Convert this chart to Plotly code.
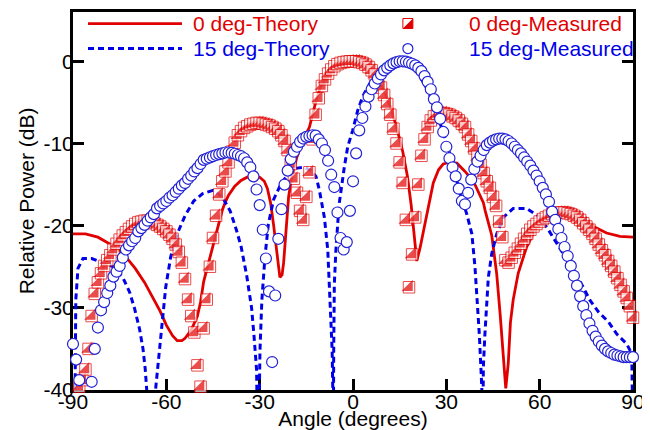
import plotly.graph_objects as go

# ---------------- data ----------------
angles = [-90, -89, -88, -87, -86, -85, -84, -83, -82, -81,
          -80, -79, -78, -77, -76, -75, -74, -73, -72, -71,
          -70, -69, -68, -67, -66, -65, -64, -63, -62, -61,
          -60, -59, -58, -57, -56, -55, -54, -53, -52, -51,
          -50, -49, -48, -47, -46, -45, -44, -43, -42, -41,
          -40, -39, -38, -37, -36, -35, -34, -33, -32, -31,
          -30, -29, -28, -27, -26, -25, -24, -23, -22, -21,
          -20, -19, -18, -17, -16, -15, -14, -13, -12, -11,
          -10, -9, -8, -7, -6, -5, -4, -3, -2, -1,
          0, 1, 2, 3, 4, 5, 6, 7, 8, 9,
          10, 11, 12, 13, 14, 15, 16, 17, 18, 19,
          20, 21, 22, 23, 24, 25, 26, 27, 28, 29,
          30, 31, 32, 33, 34, 35, 36, 37, 38, 39,
          40, 41, 42, 43, 44, 45, 46, 47, 48, 49,
          50, 51, 52, 53, 54, 55, 56, 57, 58, 59,
          60, 61, 62, 63, 64, 65, 66, 67, 68, 69,
          70, 71, 72, 73, 74, 75, 76, 77, 78, 79,
          80, 81, 82, 83, 84, 85, 86, 87, 88, 89,
          90]

meas0_db = [None, None, -39.6, -38.8, -37.5, -35.0, -31.0, -28.3, -26.9, -25.8,
            -24.9, -24.2, -23.6, -22.9, -22.2, -21.7, -21.2, -20.8, -20.4, -20.1,
            -19.8, -19.6, -19.5, -19.4, -19.4, -19.5, -19.7, -19.9, -20.1, -20.4,
            -20.7, -21.1, -21.6, -22.3, -23.2, -24.5, -26.5, -29.0, -31.0, -33.0,
            -37.0, -39.6, -32.5, -29.0, -25.0, -21.5, -18.8, -16.2, -14.6, -13.4,
            -12.3, -11.0, -9.9, -9.0, -8.5, -8.1, -7.9, -7.7, -7.6, -7.5,
            -7.5, -7.6, -7.7, -7.8, -8.0, -8.2, -8.5, -9.0, -9.7, -10.8,
            -12.5, -14.3, -16.0, -18.2, -19.3, -16.5, -13.5, -9.5, -6.5, -4.5,
            -3.0, -2.2, -1.5, -1.0, -0.6, -0.35, -0.2, -0.1, -0.05, 0.0,
            0.0, 0.0, -0.1, -0.2, -0.4, -0.7, -1.1, -1.6, -2.3, -3.2,
            -4.1, -5.2, -6.5, -8.2, -10.0, -12.3, -14.8, -19.3, -27.5, -23.5,
            -19.0, -15.0, -11.5, -9.5, -8.0, -7.2, -6.7, -6.4, -6.3, -6.3,
            -6.4, -6.5, -6.7, -6.9, -7.2, -7.6, -8.0, -8.9, -9.7, -10.6,
            -11.6, -12.6, -13.6, -14.6, -15.4, -16.5, -17.6, -19.5, -21.4, -24.2,
            -24.5, -23.9, -23.3, -22.8, -22.2, -21.6, -21.0, -20.5, -20.1, -19.8,
            -19.5, -19.2, -19.0, -18.8, -18.6, -18.5, -18.4, -18.4, -18.4, -18.5,
            -18.6, -18.8, -19.0, -19.3, -19.7, -20.1, -20.5, -21.0, -21.6, -22.3,
            -23.0, -23.6, -24.3, -24.9, -25.6, -26.4, -27.2, -28.0, -28.8, -29.8,
            -31.2]

meas15_db = [-34.4, -36.3, -38.8, None, None, None, -39.0, -35.0, -32.4, -30.3,
             -29.3, -28.2, -27.3, -26.2, -25.6, -24.9, -23.9, -22.9, -22.4, -21.9,
             -21.5, -20.7, -20.3, -19.9, -19.4, -19.0, -18.6, -17.9, -17.6, -17.3,
             -17.0, -16.6, -16.3, -15.9, -15.5, -15.1, -14.8, -14.3, -13.9, -13.4,
             -13.0, -12.5, -12.0, -11.85, -11.7, -11.55, -11.4, -11.3, -11.2, -11.1,
             -11.1, -11.15, -11.25, -11.4, -11.55, -11.8, -12.3, -12.9, -14.0, -15.6,
             -17.5, -20.5, -24.0, -28.0, -36.6, -28.5, -21.6, -18.0, -15.0, -13.3,
             -11.9, -11.0, -10.4, -9.8, -9.4, -9.2, -9.1, -9.0, -9.05, -9.5,
             -10.0, -10.8, -12.1, -13.8, -15.3, -18.4, -21.5, -22.9, -22.0, -18.2,
             -14.6, -11.2, -8.4, -6.9, -5.5, -4.3, -3.4, -2.7, -2.1, -1.6,
             -1.1, -0.8, -0.5, -0.25, -0.1, 0.0, 0.0, -0.05, -0.15, -0.3,
             -0.5, -0.8, -1.2, -1.8, -2.5, -3.4, -4.6, -5.6, -7.0, -8.6,
             -10.4, -11.8, -12.9, -14.0, -15.5, -17.0, -17.4, -16.0, -14.4, -13.1,
             -12.2, -11.5, -10.8, -10.2, -9.9, -9.65, -9.5, -9.4, -9.4, -9.5,
             -9.7, -10.0, -10.4, -10.8, -11.2, -11.7, -12.2, -12.7, -13.3, -13.9,
             -14.6, -15.4, -16.2, -17.1, -18.3, -19.3, -20.4, -21.5, -22.6, -23.7,
             -24.9, -26.1, -27.3, -28.6, -29.8, -30.9, -31.9, -32.8, -33.5, -34.1,
             -34.6, -35.0, -35.3, -35.5, -35.7, -35.8, -35.9, -36.0, -36.0, -36.0,
             -36.0]

theory0_angle = [-90, -86, -82, -79, -76, -73, -70, -67, -64, -62, -60, -58, -56.5, -55, -54,
                 -52, -50, -49, -48, -47, -46, -45, -44, -43, -42, -41, -40, -38, -36, -34,
                 -32, -30, -28.5, -27.5, -26.5, -25.5, -24.5, -23.5, -22.8, -22.3, -21.8,
                 -21.2, -20.7, -19.7, -18, -16, -14, -12, -10, -8, -6, -4, -2, 0, 2, 4, 6,
                 8, 10, 12, 14, 16, 17.5, 18.7, 19.6, 20.5, 21.5, 22.5, 23.7, 24.6, 25.8,
                 27.5, 29, 31, 33.4, 36, 38.7, 41.9, 42.5, 44.6, 46.2, 47.3, 48.3, 49.1,
                 49.9, 50.6, 51.5, 53.1, 55.8, 58, 60.1, 64.4, 68.7, 73, 77.3, 81.5, 85.8, 90]
theory0_db = [-21.0, -21.0, -21.4, -22.0, -22.7, -23.8, -25.2, -26.9, -28.9, -30.4, -32.1, -33.4, -34.0, -34.0, -33.7,
              -32.7, -31.0, -29.3, -26.8, -25.3, -24.0, -22.6, -21.0, -19.4, -18.1, -17.1, -16.3, -15.2, -14.5, -14.1,
              -13.9, -14.1, -14.6, -15.5, -17.2, -20.0, -23.0, -26.3, -26.0, -24.5, -22.0,
              -19.0, -16.5, -14.1, -11.6, -9.6, -8.0, -5.0, -2.6, -1.2, -0.5, -0.1, 0.0, 0.0, -0.2, -0.6, -1.2,
              -2.2, -3.6, -5.5, -8.0, -11.0, -14.0, -17.5, -21.0, -24.3, -22.8, -21.0, -18.5, -17.0, -14.8,
              -13.2, -12.5, -12.3, -12.4, -13.4, -14.6, -17.2, -18.2, -21.2, -25.9, -30.8, -35.5, -39.8,
              -36.8, -31.8, -29.0, -25.8, -22.6, -20.9, -19.8, -18.4, -18.1, -18.9, -20.1, -20.9, -21.3, -21.4]

theory15_angle = [-89.45, -89.3, -89.1, -88.4, -86.8, -84, -81, -77, -74, -71.8, -70.2, -68.6, -67.5,
                  -66.8, -66.2, -64.8, -63.4, -62.4, -61.3, -60.2, -58.6, -56.5, -54, -51.2, -48.3,
                  -45, -42, -39.5, -37.5, -36, -34.2, -32.6, -31.8, -31.0, -30.5, -29.9, -29.3,
                  -28.3, -27.2, -25.5, -23, -20.5, -18, -15.5, -13.5, -11.9, -10.8, -9.2, -8.1,
                  -7.6, -7.1, -6.7, -6.5, -6.35, -6.2, -6.0, -5.5, -4.5, -2.8, -1.7, -0.1, 1.5,
                  3.1, 6, 9, 12, 15, 18, 21, 24, 26, 28, 30, 32, 33.5, 34.4, 36.5, 38.2, 39.2,
                  40, 40.6, 41.1, 41.4, 41.6, 41.9, 42.4, 43, 43.5, 44.6, 46.2, 48.3, 51.5, 55.8,
                  59, 62.3, 64.9, 68, 71, 74, 76.2, 78.9, 82.1, 84.8, 88, 89.6, 89.95]
theory15_db = [-46, -35, -29, -25.2, -24.0, -24.0, -24.4, -25.0, -26.3, -28.1, -30.1, -32.6, -35.0,
               -37.4, -40.5, -50, -39.7, -35.6, -31.1, -27.5, -23.8, -21.0, -18.8, -17.0, -16.1,
               -15.7, -16.5, -18.2, -20.5, -22.5, -26.0, -30.0, -33.5, -37.5, -50, -35.2, -29.1,
               -23.8, -19.8, -16.8, -14.8, -13.6, -13.0, -12.9, -13.3, -14.0, -15.7, -19.0, -23.0,
               -27.1, -31.1, -35.2, -40.0, -50, -35.0, -27.1, -23.0, -17.5, -12.9, -10.4, -8.4, -6.0,
               -4.3, -2.3, -1.0, -0.2, 0.0, -0.3, -1.5, -3.5, -5.3, -7.5, -9.8, -12.4, -14.8, -16.1, -18.5, -21.0, -25.0,
               -29.1, -33.2, -37.2, -39.7, -50, -37.2, -33.2, -29.1, -26.3, -23.4, -21.0, -19.0, -17.9, -17.9,
               -18.7, -20.2, -21.8, -23.6, -25.5, -27.5, -29.1, -30.5, -31.7, -33.2, -34.4, -35.6, -45]

x_tick_vals = [-90, -60, -30, 0, 30, 60, 90]
x_tick_text = ["-90", "-60", "-30", "0", "30", "60", "90"]
y_tick_vals = [-40, -30, -20, -10, 0]
y_tick_text = ["-40", "-30", "-20", "-10", "0"]
legend_labels = ["0 deg-Theory", "15 deg-Theory", "0 deg-Measured", "15 deg-Measured"]

# ---------------- style ----------------
RED = "#e10000"
BLUE = "#0000e8"
CIRC = "#2222d6"
FONT = "Liberation Sans, Arial, sans-serif"

fig = go.Figure()

fig.add_trace(go.Scatter(x=theory0_angle, y=theory0_db, mode="lines",
                         line=dict(color=RED, width=2.8), name=legend_labels[0],
                         showlegend=False))
fig.add_trace(go.Scatter(x=theory15_angle, y=theory15_db, mode="lines",
                         line=dict(color=BLUE, width=3, dash="6px,4px"), name=legend_labels[1],
                         showlegend=False))

# half-filled squares: white square with red border + red lower-right triangle, point by point
sx, sy, ssym, scol, ssize, slw = [], [], [], [], [], []
for a, v in zip(angles, meas0_db):
    if v is None:
        continue
    sx += [a, a]
    sy += [v, v]
    ssym += ["square", "triangle-se"]
    scol += ["white", RED]
    ssize += [11.5, 12.5]
    slw += [1, 0]
fig.add_trace(go.Scatter(x=sx, y=sy, mode="markers", name=legend_labels[2], showlegend=False,
                         cliponaxis=False,
                         marker=dict(symbol=ssym, color=scol, size=ssize,
                                     line=dict(color=RED, width=slw))))

fig.add_trace(go.Scatter(x=angles, y=meas15_db, mode="markers", name=legend_labels[3],
                         showlegend=False, cliponaxis=False,
                         marker=dict(symbol="circle", color="white", size=11,
                                     line=dict(color=CIRC, width=1.2))))

# ---------------- custom legend ----------------
row1, row2 = 0.9695, 0.9033
lx0, lx1 = 0.0268, 0.1946
tx1 = 0.2107
mx = 0.598
tx2 = 0.7036
shapes = [
    dict(type="line", xref="paper", yref="paper", x0=lx0, x1=lx1, y0=row1, y1=row1,
         line=dict(color=RED, width=2.8)),
    dict(type="line", xref="paper", yref="paper", x0=lx0, x1=lx1, y0=row2, y1=row2,
         line=dict(color=BLUE, width=3, dash="6px,4px")),
    dict(type="rect", xref="paper", yref="paper", xsizemode="pixel", ysizemode="pixel",
         xanchor=mx, yanchor=row1, x0=-5, x1=5, y0=-5, y1=5,
         fillcolor="white", line=dict(color=RED, width=1)),
    dict(type="path", xref="paper", yref="paper", xsizemode="pixel", ysizemode="pixel",
         xanchor=mx, yanchor=row1, path="M5,-5 L5,5 L-5,-5 Z",
         fillcolor=RED, line=dict(width=0)),
    dict(type="circle", xref="paper", yref="paper", xsizemode="pixel", ysizemode="pixel",
         xanchor=mx, yanchor=row2, x0=-5, x1=5, y0=-5, y1=5,
         fillcolor="white", line=dict(color=CIRC, width=1.2)),
]
annotations = [
    dict(text=legend_labels[0], x=tx1, y=row1, font=dict(color=RED)),
    dict(text=legend_labels[1], x=tx1, y=row2, font=dict(color=BLUE)),
    dict(text=legend_labels[2], x=tx2, y=row1, font=dict(color=RED)),
    dict(text=legend_labels[3], x=tx2, y=row2, font=dict(color=BLUE)),
]
for an in annotations:
    an.update(xref="paper", yref="paper", xanchor="left", yanchor="middle", showarrow=False)
    an["font"].update(size=21, family=FONT)

axis_common = dict(
    showline=True, linecolor="black", linewidth=3,
    ticks="inside", ticklen=11, tickwidth=2.5, tickcolor="black",
    showgrid=False, zeroline=False, layer="below traces",
    tickfont=dict(size=21, color="black", family=FONT),
    automargin=False,
)

# the page body adds an 8px offset; the figure is sized so that the plot area
# lands at the same place as in the reference window
fig.update_layout(
    width=642, height=422,
    margin=dict(l=65, r=17, t=4, b=40),
    paper_bgcolor="white", plot_bgcolor="white",
    font=dict(family=FONT, size=21, color="black"),
    showlegend=False,
    shapes=shapes,
    annotations=annotations,
    xaxis=dict(range=[-90, 90], tickvals=x_tick_vals, ticktext=x_tick_text, mirror=True,
               ticklabelstandoff=-9,
               title=dict(text="Angle (degrees)", standoff=2, font=dict(size=21)),
               **axis_common),
    yaxis=dict(range=[-40, 6], tickvals=y_tick_vals, ticktext=y_tick_text, mirror="ticks",
               ticklabelstandoff=-8,
               title=dict(text="Relative Power (dB)", standoff=4, font=dict(size=21)),
               **axis_common),
)

fig.write_html("out.html")
